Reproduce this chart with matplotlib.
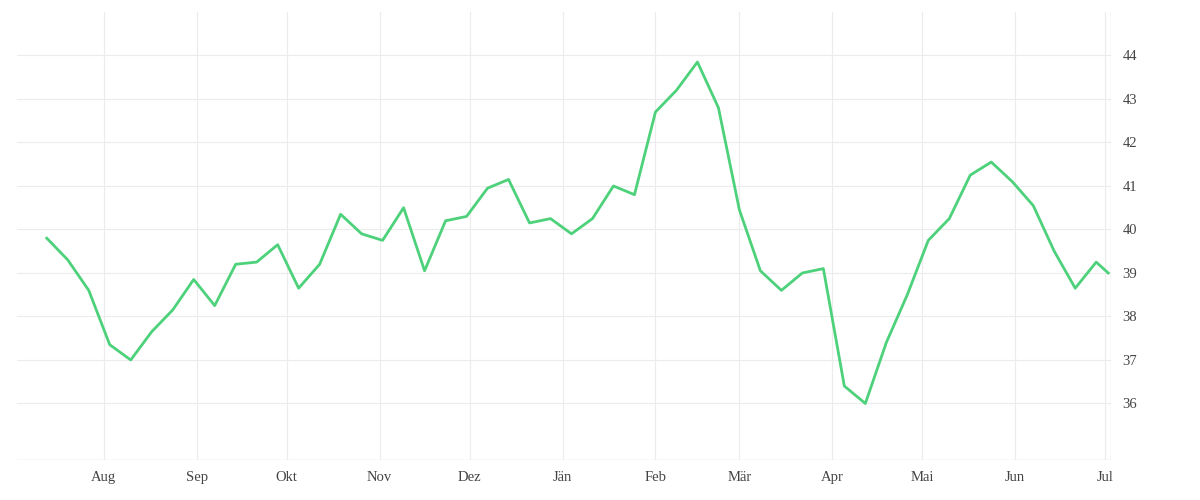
import matplotlib
matplotlib.use("Agg")
import matplotlib.pyplot as plt
import datetime as dt

start = dt.date(2022, 7, 13)
dates = [start + dt.timedelta(weeks=i) for i in range(51)] + [dt.date(2023, 7, 2)]
values = [39.8, 39.3, 38.6, 37.35, 37.0, 37.65, 38.15, 38.85, 38.25, 39.2,
          39.25, 39.65, 38.65, 39.2, 40.35, 39.9, 39.75, 40.5, 39.05, 40.2,
          40.3, 40.95, 41.15, 40.15, 40.25, 39.9, 40.25, 41.0, 40.8, 42.7,
          43.2, 43.85, 42.8, 40.45, 39.05, 38.6, 39.0, 39.1, 36.4, 36.0,
          37.4, 38.5, 39.75, 40.25, 41.25, 41.55, 41.1, 40.55, 39.5, 38.65,
          39.25, 39.0]
month_labels = ["Aug", "Sep", "Okt", "Nov", "Dez", "Jän", "Feb", "Mär", "Apr", "Mai", "Jun", "Jul"]
month_ticks = [dt.date(2022 + (m > 12), (m - 1) % 12 + 1, 1) for m in range(8, 20)]

plt.rcParams['font.family'] = ['Liberation Serif', 'DejaVu Serif']
fig = plt.figure(figsize=(12, 5), dpi=100)
ax = fig.add_axes([0.014, 0.08, 0.912, 0.896])
ax.plot(dates, values, color="#4dd17a", lw=2)

ax.set_xlim(dt.date(2022, 7, 3), dt.date(2023, 7, 3))
ax.set_ylim(34.7, 45.0)
ax.yaxis.tick_right()
ax.set_yticks(range(36, 45))
ax.set_xticks(month_ticks)
ax.set_xticklabels(month_labels)
ax.grid(True, color="#ececec", lw=0.8)
ax.tick_params(length=0, labelsize=10.5, colors="#444444", pad=8)
for s in ax.spines.values():
    s.set_visible(False)
ax.axhline(34.7, color="#dddddd", lw=1)
ax.axvline(dt.date(2023, 7, 3), color="#dddddd", lw=1)

fig.savefig("out.png")
